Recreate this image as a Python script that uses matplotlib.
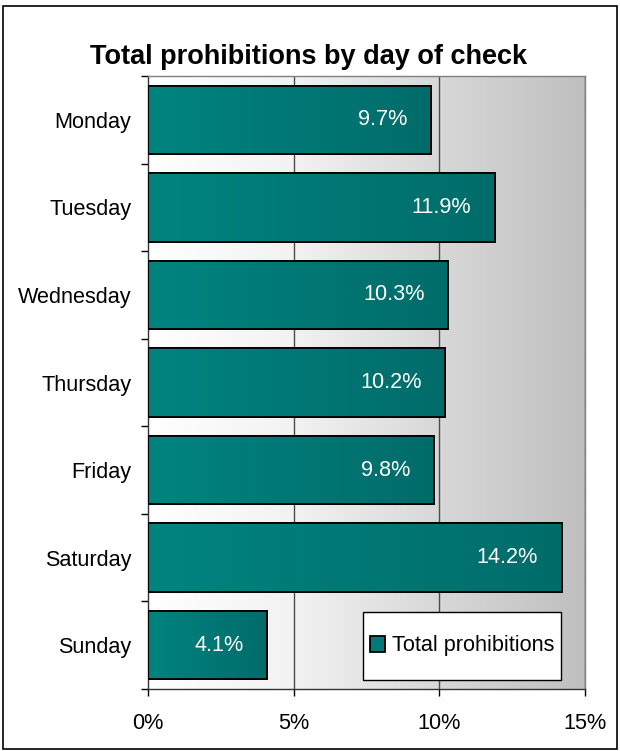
import matplotlib
matplotlib.use("Agg")
import matplotlib.pyplot as plt
import numpy as np
from matplotlib.patches import Rectangle
from matplotlib.colors import LinearSegmentedColormap

days = ["Monday", "Tuesday", "Wednesday", "Thursday", "Friday", "Saturday", "Sunday"]
values = [9.7, 11.9, 10.3, 10.2, 9.8, 14.2, 4.1]
labels = ["9.7%", "11.9%", "10.3%", "10.2%", "9.8%", "14.2%", "4.1%"]
xticks = [0, 5, 10, 15]
xticklabels = ["0%", "5%", "10%", "15%"]
series_name = "Total prohibitions"
title = "Total prohibitions by day of check"

plt.rcParams['font.family'] = ['Liberation Sans', 'DejaVu Sans']

FS = 15.6

fig = plt.figure(figsize=(6.2, 7.51), dpi=100)
fig.patch.set_facecolor("white")
ax = fig.add_axes([148/620, 62/751, (585-148)/620, (689-76)/751])

n = len(days)
ax.set_xlim(0, 15)
ax.set_ylim(n - 0.5, -0.5)

# background gradient
bg = LinearSegmentedColormap.from_list("bg", ["#ffffff", "#f2f2f2", "#d8d8d8", "#bfbfbf"])
grad = np.linspace(0, 1, 256).reshape(1, -1)
ax.imshow(grad, cmap=bg, extent=[0, 15, n - 0.5, -0.5], aspect="auto", zorder=0)

for x in xticks[1:]:
    ax.axvline(x, color="#4d4d4d", lw=1.0, zorder=1)

ypos = np.arange(n)
bars = ax.barh(ypos, values, height=0.78, color="#007a78", edgecolor="black", lw=1.3, zorder=2)

barcm = LinearSegmentedColormap.from_list("bar", ["#008480", "#006c6a"])
for b in bars:
    x0, y0 = b.get_x(), b.get_y()
    w, h = b.get_width(), b.get_height()
    im = ax.imshow(np.linspace(0, 1, 256).reshape(1, -1), cmap=barcm,
                   extent=[x0, x0 + w, y0 + h, y0], aspect="auto", zorder=2.5)
    im.set_clip_path(b)
    outline = Rectangle((x0, y0), w, h, fill=False, edgecolor="black", lw=1.3, zorder=3)
    ax.add_patch(outline)

for y, v, lab in zip(ypos, values, labels):
    ax.annotate(lab, xy=(v, y), xytext=(-17, 0), textcoords="offset points",
                ha="right", va="center", color="white", fontsize=FS, zorder=4)

ax.set_yticks(np.arange(-0.5, n, 1.0))
ax.set_yticklabels([])
ax.set_yticks(ypos, minor=True)
ax.set_yticklabels(days, minor=True, fontsize=FS)
ax.tick_params(axis="y", which="minor", length=0, pad=12)
ax.tick_params(axis="y", which="major", length=5, width=1, direction="out")
ax.set_xticks(xticks)
ax.set_xticklabels(xticklabels, fontsize=FS)
ax.tick_params(axis="x", length=5, width=1, direction="out", pad=12)

for s in ["top", "right"]:
    ax.spines[s].set_color("#808080")
    ax.spines[s].set_linewidth(1.0)
for s in ["left", "bottom"]:
    ax.spines[s].set_color("#333333")
    ax.spines[s].set_linewidth(1.0)
ax.set_zorder(1)

fig.text(0.497, 1 - 57/751, title, ha="center", va="center", fontsize=19.5, fontweight="bold")

# legend box
W, H = 437.0, 613.0
box = Rectangle(((363 - 148) / W, (689 - 680) / H), (561 - 363) / W, (680 - 612) / H,
                transform=ax.transAxes, facecolor="white", edgecolor="black", lw=1.0, zorder=5)
ax.add_patch(box)
leg = ax.legend([Rectangle((0, 0), 1, 1, facecolor="#007a78", edgecolor="black", lw=1.3)],
                [series_name], loc="center left",
                bbox_to_anchor=((370 - 148) / W, (689 - 646) / H),
                fontsize=FS, frameon=False, handlelength=0.7, handleheight=0.7,
                handletextpad=0.3, borderaxespad=0, borderpad=0)
leg.set_zorder(6)

fig.add_artist(Rectangle((3/620, 2/751), 614/620, 743/751, transform=fig.transFigure,
                         fill=False, edgecolor="black", lw=1.2))

fig.savefig("out.png", dpi=100)
